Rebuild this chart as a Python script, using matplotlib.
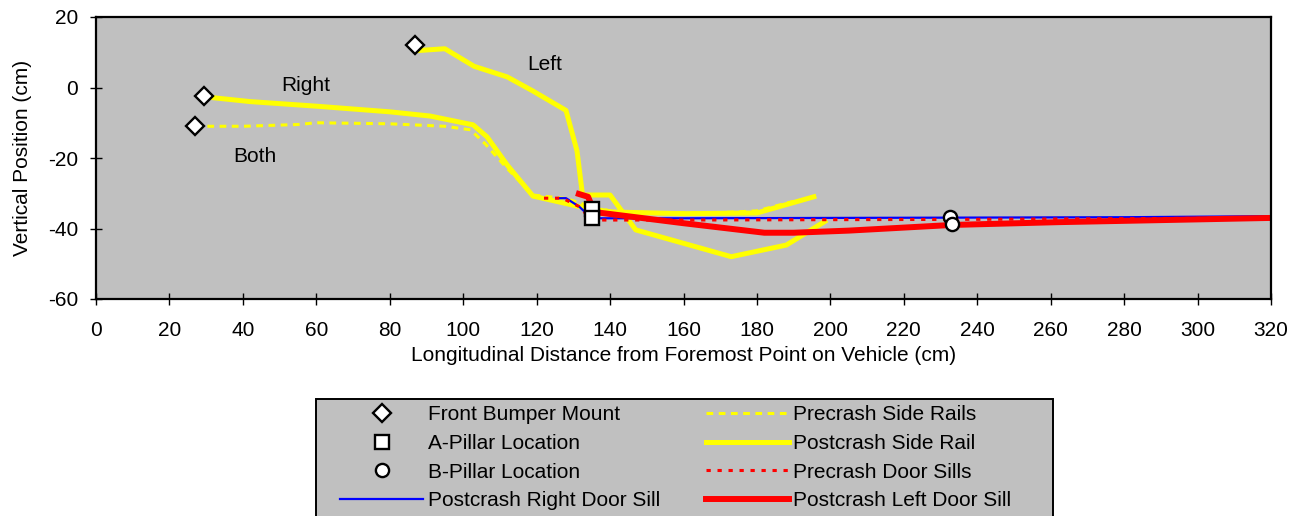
import matplotlib
matplotlib.use("Agg")
import matplotlib.pyplot as plt
from matplotlib.patches import Rectangle

plt.rcParams["font.family"] = ["Liberation Sans", "DejaVu Sans"]
plt.rcParams["axes.unicode_minus"] = False

# marker series
bumper_x = [87, 29.5, 27]
bumper_y = [12, -2.5, -11]
apillar_x = [135, 135]
apillar_y = [-34.5, -37]
bpillar_x = [232.6, 233]
bpillar_y = [-36.7, -38.8]

# precrash side rails (both sides)
pre_rail_x = [27, 40, 55, 60, 80, 95, 102, 106, 112, 119, 128, 134, 140, 150, 170, 180, 191]
pre_rail_y = [-11, -11, -10.5, -10, -10.3, -11, -12, -16, -23, -30.5, -31.5, -33.5, -35, -35.5, -35.5, -35, -32]

# postcrash side rails
right_rail_x = [31, 42, 60, 80, 91, 102.7, 106.5, 112, 119, 131.8, 140, 160, 180, 195.5]
right_rail_y = [-2.8, -4, -5.3, -6.9, -8.1, -10.6, -14, -22, -30.8, -33.8, -35.3, -35.8, -35.6, -31]
left_rail_x = [88, 95, 103, 112, 119, 128, 131, 132.5, 140, 147, 173, 188, 198.5]
left_rail_y = [10.5, 11, 6, 3, -1, -6.5, -18, -30.5, -30.5, -40.4, -48, -44.7, -38]

# door sills
pre_sill_x = [122, 127, 131.6, 135, 160, 200, 240, 280, 320]
pre_sill_y = [-31.4, -31.4, -33.8, -37.6, -37.6, -37.5, -37.4, -37.2, -37]
right_sill_x = [125.4, 128, 131.6, 135, 160, 200, 240, 280, 320]
right_sill_y = [-31.4, -31.4, -33.8, -37.1, -37.1, -37, -36.9, -36.8, -36.5]
left_sill_x = [131.5, 134, 135, 137, 160, 182, 190, 205, 233, 262, 320]
left_sill_y = [-30.2, -31, -33.5, -35.5, -38.5, -41.2, -41.2, -40.6, -39, -38.2, -37]

fs = 15
grey = "#C0C0C0"
fig = plt.figure(figsize=(13.03, 5.16), dpi=100)
ax = fig.add_axes([96 / 1303, 1 - 299 / 516, 1175 / 1303, 282 / 516])
ax.set_facecolor(grey)

h_pre_rail, = ax.plot(pre_rail_x, pre_rail_y, color="#FFFF00", lw=2.2, ls=(0, (2.2, 1.8)), label="Precrash Side Rails")
h_post_rail, = ax.plot(right_rail_x, right_rail_y, color="#FFFF00", lw=3.6, label="Postcrash Side Rail")
ax.plot(left_rail_x, left_rail_y, color="#FFFF00", lw=3.6)
h_right_sill, = ax.plot(right_sill_x, right_sill_y, color="#0000FF", lw=1.6, label="Postcrash Right Door Sill")
h_pre_sill, = ax.plot(pre_sill_x, pre_sill_y, color="#FF0000", lw=2.2, ls=(0, (1.4, 2.2)), label="Precrash Door Sills")
h_left_sill, = ax.plot(left_sill_x, left_sill_y, color="#FF0000", lw=4.3, label="Postcrash Left Door Sill")

mk = dict(ls="none", mfc="white", mec="black", mew=1.7, zorder=5)
h_bump, = ax.plot(bumper_x, bumper_y, marker="D", ms=9, label="Front Bumper Mount", **mk)
h_a, = ax.plot(apillar_x, apillar_y, marker="s", ms=9.5, label="A-Pillar Location", **mk)
h_b, = ax.plot(bpillar_x, bpillar_y, marker="o", ms=9.5, label="B-Pillar Location", **mk)

ax.text(57, 0.5, "Right", fontsize=fs, ha="center", va="center")
ax.text(122.3, 6.5, "Left", fontsize=fs, ha="center", va="center")
ax.text(43.3, -19.5, "Both", fontsize=fs, ha="center", va="center")

ax.set_xlim(0, 320)
ax.set_ylim(-60, 20)
ax.set_xticks(range(0, 321, 20))
ax.set_yticks(range(-60, 21, 20))
ax.tick_params(direction="inout", length=8, width=1, labelsize=fs)
ax.tick_params(axis="x", pad=11.5)
ax.tick_params(axis="y", pad=9)
for s in ax.spines.values():
    s.set_linewidth(1.6)
ax.set_xlabel("Longitudinal Distance from Foremost Point on Vehicle (cm)", fontsize=fs, labelpad=5)
ax.set_ylabel("Vertical Position (cm)", fontsize=fs, labelpad=11)

# legend box drawn by hand so it can run past the bottom edge
fig.patches.append(Rectangle((316 / 1303, -0.05), (1053 - 316) / 1303, 0.05 + 1 - 399 / 516,
                             transform=fig.transFigure, facecolor=grey, edgecolor="black", lw=1.4))
handles = [h_bump, h_a, h_b, h_right_sill, h_pre_rail, h_post_rail, h_pre_sill, h_left_sill]
fig.legend(handles=handles, loc="upper left", bbox_to_anchor=(338 / 1303, 1 - 403 / 516), ncol=2,
           frameon=False, fontsize=fs, handlelength=4.0, handletextpad=0.2, columnspacing=2.2,
           labelspacing=0.47, borderpad=0.1, borderaxespad=0)

fig.savefig("out.png", dpi=100)
